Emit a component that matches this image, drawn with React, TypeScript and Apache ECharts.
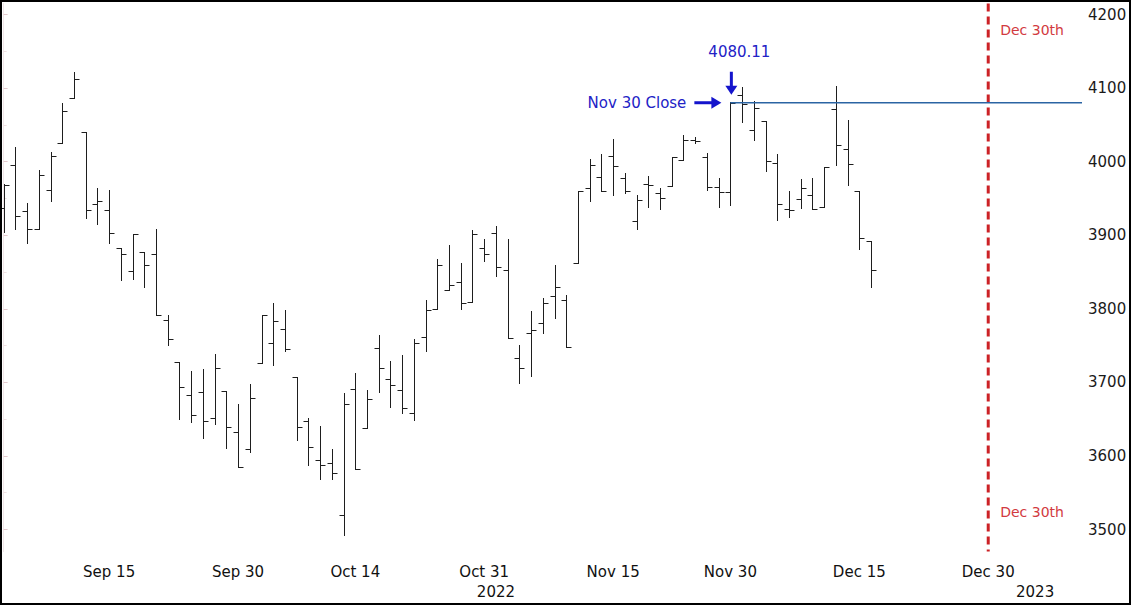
import React, { useEffect, useRef } from 'react';
import * as echarts from 'echarts';

// Trading days shown with OHLC bars
const dates = [
  '2022-09-01', '2022-09-02', '2022-09-06', '2022-09-07', '2022-09-08', '2022-09-09',
  '2022-09-12', '2022-09-13', '2022-09-14', '2022-09-15', '2022-09-16',
  '2022-09-19', '2022-09-20', '2022-09-21', '2022-09-22', '2022-09-23',
  '2022-09-26', '2022-09-27', '2022-09-28', '2022-09-29', '2022-09-30',
  '2022-10-03', '2022-10-04', '2022-10-05', '2022-10-06', '2022-10-07',
  '2022-10-10', '2022-10-11', '2022-10-12', '2022-10-13', '2022-10-14',
  '2022-10-17', '2022-10-18', '2022-10-19', '2022-10-20', '2022-10-21',
  '2022-10-24', '2022-10-25', '2022-10-26', '2022-10-27', '2022-10-28',
  '2022-10-31', '2022-11-01', '2022-11-02', '2022-11-03', '2022-11-04',
  '2022-11-07', '2022-11-08', '2022-11-09', '2022-11-10', '2022-11-11',
  '2022-11-14', '2022-11-15', '2022-11-16', '2022-11-17', '2022-11-18',
  '2022-11-21', '2022-11-22', '2022-11-23', '2022-11-25',
  '2022-11-28', '2022-11-29', '2022-11-30', '2022-12-01', '2022-12-02',
  '2022-12-05', '2022-12-06', '2022-12-07', '2022-12-08', '2022-12-09',
  '2022-12-12', '2022-12-13', '2022-12-14', '2022-12-15', '2022-12-16',
];
const opens = [
  3937, 3996, 3933, 3909, 3961, 4025,
  4086, 4040, 3943, 3934, 3883,
  3851, 3877, 3874, 3785, 3728,
  3683, 3687, 3652, 3688, 3633,
  3610, 3727, 3754, 3773, 3707,
  3647, 3595, 3591, 3520, 3691,
  3638, 3747, 3704, 3689, 3658,
  3762, 3800, 3826, 3836, 3809,
  3883, 3903, 3853, 3733, 3767,
  3781, 3818, 3812, 3862, 3964,
  3979, 4008, 3978, 3920, 3969,
  3958, 3967, 4002, 4030,
  4007, 3966, 3959, 4090, 4043,
  4055, 3998, 3936, 3949, 3955,
  3939, 4072, 4017, 3960, 3892,
];
const highs = [
  3970, 4020, 3944, 3989, 4013, 4080,
  4122, 4040, 3964, 3961, 3883,
  3902, 3877, 3909, 3791, 3728,
  3716, 3718, 3738, 3688, 3671,
  3698, 3792, 3808, 3799, 3707,
  3652, 3641, 3609, 3686, 3713,
  3690, 3764, 3729, 3737, 3759,
  3812, 3868, 3887, 3862, 3907,
  3895, 3913, 3895, 3751, 3797,
  3815, 3860, 3819, 3960, 4004,
  4010, 4031, 3984, 3955, 3981,
  3964, 4007, 4036, 4034,
  4012, 3978, 4080.5, 4102, 4082,
  4055, 4011, 3960, 3977, 3978,
  3993, 4103, 4056, 3960, 3892,
];
const lows = [
  3904, 3909, 3890, 3909, 3946, 4025,
  4086, 3924, 3915, 3890, 3839,
  3840, 3829, 3791, 3751, 3650,
  3646, 3625, 3643, 3611, 3585,
  3606, 3727, 3724, 3742, 3622,
  3588, 3569, 3569, 3492, 3582,
  3638, 3687, 3667, 3658, 3649,
  3742, 3800, 3826, 3800, 3809,
  3865, 3845, 3761, 3699, 3709,
  3767, 3788, 3748, 3862, 3947,
  3960, 3955, 3958, 3909, 3939,
  3936, 3967, 4002, 4025,
  3962, 3939, 3941, 4054, 4029,
  3987, 3921, 3925, 3937, 3936,
  3939, 3995, 3968, 3881, 3830,
];
const closes = [
  3968, 3926, 3909, 3982, 4008, 4069,
  4113, 3934, 3946, 3903, 3875,
  3902, 3859, 3791, 3759, 3694,
  3656, 3648, 3720, 3640, 3585,
  3679, 3792, 3784, 3745, 3640,
  3612, 3588, 3577, 3670, 3582,
  3678, 3720, 3696, 3665, 3754,
  3799, 3860, 3832, 3808, 3902,
  3874, 3857, 3761, 3720, 3771,
  3808, 3829, 3748, 3960, 3995,
  3960, 3994, 3960, 3948, 3968,
  3951, 4007, 4029, 4028,
  3966, 3959, 4080.11, 4079, 4073,
  4001, 3943, 3934, 3964, 3936,
  3993, 4022, 3997, 3896, 3853,
];
// Empty future sessions that extend the axis
const futureDates = [
  '2022-12-19', '2022-12-20', '2022-12-21', '2022-12-22', '2022-12-23',
  '2022-12-26', '2022-12-27', '2022-12-28', '2022-12-29', '2022-12-30',
  '2023-01-02', '2023-01-03', '2023-01-04', '2023-01-05', '2023-01-06',
  '2023-01-09', '2023-01-10',
];
const xTickDates = [
  '2022-09-15', '2022-09-30', '2022-10-14', '2022-10-31',
  '2022-11-15', '2022-11-30', '2022-12-15', '2022-12-30',
];
const xTickLabels = ['Sep 15', 'Sep 30', 'Oct 14', 'Oct 31', 'Nov 15', 'Nov 30', 'Dec 15', 'Dec 30'];
const yearDates = ['2022-11-01', '2023-01-05'];
const yearLabels = ['2022', '2023'];
const yTickValues = [3500, 3600, 3700, 3800, 3900, 4000, 4100, 4200];
const yMinorValues = [3550, 3650, 3750, 3850, 3950, 4050, 4150];
const yMin = 3470;
const yMax = 4215;

const closeDate = '2022-11-30';
const closeValue = 4080.11;
const closeValueText = '4080.11';
const closeLabel = 'Nov 30 Close';
const markerDate = '2022-12-30';
const markerLabel = 'Dec 30th';

const FONT = 'DejaVu Sans';
const BLUE_TEXT = '#2222c6';
const RED = '#cc2226';

export default function App() {
  const ref = useRef<HTMLDivElement>(null);

  useEffect(() => {
    if (!ref.current) return;
    const chart = echarts.init(ref.current, null, { renderer: 'svg' });
    const allDates = dates.concat(futureDates);
    const idx = (d: string) => allDates.indexOf(d);
    const labelMap: Record<number, string> = {};
    xTickDates.forEach((d, i) => { labelMap[idx(d)] = xTickLabels[i]; });
    const yearMap: Record<number, string> = {};
    yearDates.forEach((d, i) => { yearMap[idx(d)] = yearLabels[i]; });
    const xMin = -0.31;
    const xMax = allDates.length;

    const ohlc = dates.map((d, i) => [i, opens[i], highs[i], lows[i], closes[i]]);
    const closeIdx = idx(closeDate);
    const markerIdx = idx(markerDate);

    const renderItem = (params: any, api: any) => {
      const x = api.value(0);
      const o = api.coord([x, api.value(1)]);
      const h = api.coord([x, api.value(2)]);
      const l = api.coord([x, api.value(3)]);
      const c = api.coord([x, api.value(4)]);
      const px = Math.round(o[0]) + 0.5;
      const oy = Math.round(o[1]) + 0.5;
      const cy = Math.round(c[1]) + 0.5;
      const style = { stroke: '#1e1e1e', lineWidth: 1 };
      return {
        type: 'group',
        children: [
          { type: 'line', shape: { x1: px, y1: Math.round(h[1]), x2: px, y2: Math.round(l[1]) + 1 }, style },
          { type: 'line', shape: { x1: px - 5, y1: oy, x2: px, y2: oy }, style },
          { type: 'line', shape: { x1: px, y1: cy, x2: px + 5, y2: cy }, style },
        ],
      };
    };

    const xAxisBase = {
      type: 'value',
      min: xMin,
      max: xMax,
      axisLine: { show: false },
      axisTick: { show: false },
      splitLine: { show: false },
    };

    chart.setOption({
      animation: false,
      grid: { left: 0, right: 49, top: 3.5, bottom: 53.4, containLabel: false },
      xAxis: [
        {
          ...xAxisBase,
          axisLabel: {
            customValues: xTickDates.map((d) => idx(d)),
            formatter: (v: number) => labelMap[Math.round(v)] ?? '',
            fontFamily: FONT,
            fontSize: 15,
            color: '#111',
            margin: 13,
          },
        },
        {
          ...xAxisBase,
          position: 'bottom',
          offset: 20,
          axisLabel: {
            customValues: yearDates.map((d) => idx(d)),
            formatter: (v: number) => yearMap[Math.round(v)] ?? '',
            fontFamily: FONT,
            fontSize: 15,
            color: '#111',
            margin: 13,
          },
        },
      ],
      yAxis: [
        {
          type: 'value',
          position: 'right',
          min: yMin,
          max: yMax,
          axisLine: { show: true, lineStyle: { color: '#f1e6e8', width: 1 } },
          axisTick: { show: true, customValues: yTickValues, length: 4, lineStyle: { color: '#e3c9cd' } },
          splitLine: { show: false },
          axisLabel: {
            customValues: yTickValues,
            formatter: (v: number) => String(Math.round(v)),
            fontFamily: FONT,
            fontSize: 15,
            color: '#1a1a1a',
            margin: 6,
          },
        },
        {
          type: 'value',
          position: 'right',
          min: yMin,
          max: yMax,
          axisLine: { show: false },
          axisTick: { show: true, customValues: yMinorValues, length: 3, lineStyle: { color: '#efe0e2' } },
          splitLine: { show: false },
          axisLabel: { show: false },
        },
      ],
      series: [
        {
          type: 'custom',
          renderItem,
          data: ohlc,
          encode: { x: 0, y: [1, 2, 3, 4] },
          z: 3,
        },
        {
          type: 'line',
          data: [[closeIdx, closeValue], [xMax, closeValue]],
          symbol: 'none',
          lineStyle: { color: '#2b64a3', width: 1.5 },
          z: 4,
          silent: true,
        },
        {
          type: 'line',
          data: [[markerIdx, yMax], [markerIdx, yMin]],
          symbol: 'none',
          lineStyle: { color: RED, width: 3, type: [8, 5] },
          z: 2,
          silent: true,
        },
      ],
    });

    const p = chart.convertToPixel({ xAxisIndex: 0, yAxisIndex: 0 }, [closeIdx, closeValue]) as number[];
    const mx = (chart.convertToPixel({ xAxisIndex: 0, yAxisIndex: 0 }, [markerIdx, yMax]) as number[])[0];
    const ax = p[0] + 1;
    const ay = p[1];

    chart.setOption({
      graphic: [
        {
          type: 'text',
          x: p[0] + 9,
          y: ay - 51,
          style: { text: closeValueText, fill: BLUE_TEXT, font: `15px "${FONT}"`, textAlign: 'center', textVerticalAlign: 'middle' },
        },
        {
          type: 'line',
          shape: { x1: ax, y1: ay - 31, x2: ax, y2: ay - 16 },
          style: { stroke: '#1414cc', lineWidth: 3 },
        },
        {
          type: 'polygon',
          shape: { points: [[ax - 6, ay - 17], [ax + 6, ay - 17], [ax, ay - 8]] },
          style: { fill: '#1414cc' },
        },
        {
          type: 'text',
          x: p[0] - 44,
          y: ay,
          style: { text: closeLabel, fill: BLUE_TEXT, font: `15px "${FONT}"`, textAlign: 'right', textVerticalAlign: 'middle' },
        },
        {
          type: 'line',
          shape: { x1: p[0] - 36, y1: ay, x2: p[0] - 18, y2: ay },
          style: { stroke: '#1414cc', lineWidth: 3 },
        },
        {
          type: 'polygon',
          shape: { points: [[p[0] - 19, ay - 6], [p[0] - 19, ay + 6], [p[0] - 9, ay]] },
          style: { fill: '#1414cc' },
        },
        {
          type: 'text',
          x: mx + 12,
          y: 30,
          style: { text: markerLabel, fill: '#d23a40', font: `14px "${FONT}"`, textAlign: 'left', textVerticalAlign: 'middle' },
        },
        {
          type: 'text',
          x: mx + 12,
          y: 512,
          style: { text: markerLabel, fill: '#d23a40', font: `14px "${FONT}"`, textAlign: 'left', textVerticalAlign: 'middle' },
        },
      ],
    });

    return () => chart.dispose();
  }, []);

  return (
    <div style={{ position: 'fixed', left: 0, top: 0, width: 1131, height: 605, background: '#fff' }}>
      <div ref={ref} style={{ position: 'absolute', left: 0, top: 0, width: 1131, height: 605 }} />
      <div
        style={{
          position: 'absolute',
          left: 0,
          top: 0,
          width: 1131,
          height: 605,
          border: '2px solid #000',
          boxSizing: 'border-box',
          pointerEvents: 'none',
        }}
      />
    </div>
  );
}
